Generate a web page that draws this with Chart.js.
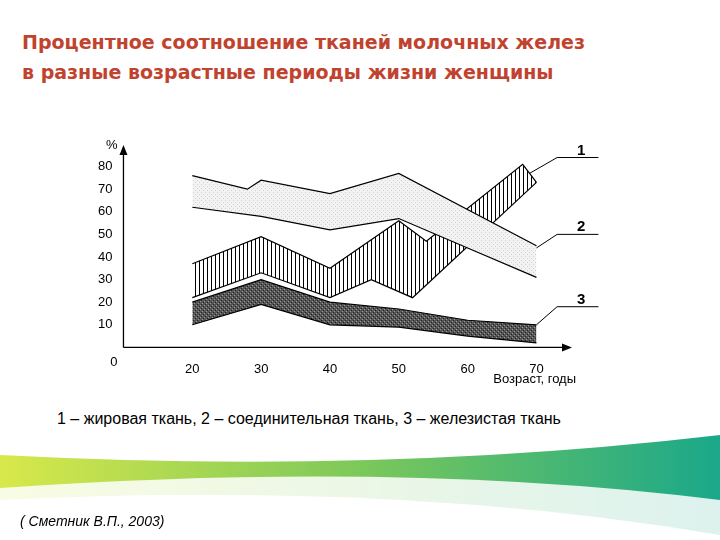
<!DOCTYPE html>
<html><head><meta charset="utf-8">
<script src="https://cdn.jsdelivr.net/npm/chart.js@4/dist/chart.umd.min.js"></script>
<style>
body{margin:0;width:720px;height:540px;overflow:hidden;background:#fff;position:relative;font-family:"Liberation Sans",Arial,sans-serif}
#title{position:absolute;left:22px;top:27px;font-family:"DejaVu Sans",sans-serif;font-weight:bold;font-size:19px;line-height:30px;color:#c0432f}
#wrap{position:absolute;left:95px;top:130px;width:510px;height:260px}
#leg{position:absolute;left:57px;top:410px;font-size:16px;color:#000}
#src{position:absolute;left:20px;top:513px;font-size:14px;font-style:italic;color:#000}
#deco{position:absolute;left:0;top:430px}
</style></head><body>
<canvas id="deco" width="720" height="110"></canvas>
<div id="title">Процентное соотношение тканей молочных желез<br>в разные возрастные периоды жизни женщины</div>
<div id="wrap"><canvas id="c"></canvas></div>
<div id="leg">1 – жировая ткань, 2 – соединительная ткань, 3 – железистая ткань</div>
<div id="src">( Сметник В.П., 2003)</div>
<script>
// data
const fatUpperX=[20,30,40,50,54,68,70], fatUpperY=[37,49,35,56,47,81,73];
const fatLowerX=[20,30,40,46,52,70], fatLowerY=[22,33,22,30,22,73];
const connUpperX=[20,28,30,40,50,70], connUpperY=[76,70,74,68,77,45];
const connLowerX=[20,30,40,50,60,70], connLowerY=[62,58,52,57,44,31];
const glandUpperX=[20,30,40,50,60,70], glandUpperY=[20,30,20,17,12,10];
const glandLowerX=[20,30,40,50,60,70], glandLowerY=[10,19,10,9,5,2];
const xTicks=[20,30,40,50,60,70], yTicks=[10,20,30,40,50,60,70,80];
const bandLabels=['1','2','3'];

// decoration
const d=document.getElementById('deco').getContext('2d');
let g=d.createLinearGradient(0,0,720,0);g.addColorStop(0,'#d8e84a');g.addColorStop(0.5,'#7cc85a');g.addColorStop(1,'#1aa88a');
d.fillStyle=g;d.beginPath();d.moveTo(0,25);d.quadraticCurveTo(380,45,720,5);d.lineTo(720,110);d.lineTo(0,110);d.closePath();d.fill();
d.fillStyle='rgba(255,255,255,0.85)';d.beginPath();d.moveTo(0,58);d.quadraticCurveTo(400,30,720,70);d.lineTo(720,110);d.lineTo(0,110);d.closePath();d.fill();
d.fillStyle='#fff';d.beginPath();d.moveTo(0,70);d.quadraticCurveTo(400,50,720,105);d.lineTo(720,110);d.lineTo(0,110);d.closePath();d.fill();

function pat(kind){const p=document.createElement('canvas');p.width=p.height=4;const x=p.getContext('2d');
 x.fillStyle='#fff';x.fillRect(0,0,4,4);
 if(kind==='v'){x.fillStyle='#000';x.fillRect(0,0,1,4);}
 else if(kind==='l'){x.fillStyle='#f3f3f3';x.fillRect(0,0,4,4);x.fillStyle='#d0d0d0';x.fillRect(0,0,1,1);x.fillRect(2,2,1,1);}
 else {x.fillStyle='#555';x.fillRect(0,0,4,4);x.fillStyle='#222';x.fillRect(0,0,1,1);x.fillRect(2,2,1,1);x.fillStyle='#999';x.fillRect(1,3,1,1);x.fillRect(3,1,1,1);}
 return x.createPattern(p,'repeat');}
const pts=(xs,ys)=>xs.map((v,i)=>({x:v,y:ys[i]}));
const ds=(xs,ys,fill,bg)=>({data:pts(xs,ys),borderColor:'#000',borderWidth:1.2,pointRadius:0,tension:0,fill:fill,backgroundColor:bg});
const ctx=document.getElementById('c');
const deco={id:'deco',afterDraw(ch){const c=ch.ctx,xs=ch.scales.x,ys=ch.scales.y;c.save();c.strokeStyle='#000';c.fillStyle='#000';c.lineWidth=1.3;
 const x0=xs.left,y0=ys.bottom;
 c.beginPath();c.moveTo(x0,y0);c.lineTo(xs.right,y0);c.moveTo(x0,y0);c.lineTo(x0,ys.top);c.stroke();
 c.beginPath();c.moveTo(xs.right+8,y0);c.lineTo(xs.right-2,y0-4);c.lineTo(xs.right-2,y0+4);c.fill();
 c.beginPath();c.moveTo(x0,ys.top-8);c.lineTo(x0-4,ys.top+2);c.lineTo(x0+4,ys.top+2);c.fill();
 c.font='13px "Liberation Sans",Arial';c.textAlign='right';c.fillText('0',x0-6,y0+19);c.fillText('%',x0-6,ys.top-4);
 c.fillText('Возраст, годы',xs.right+12,y0+36);
 c.lineWidth=1;c.font='bold 15px "Liberation Sans",Arial';c.textAlign='left';
 const lines=[[69,77,73,84,79,84],[70,44,73,50,79,50],[70,10,73,18,79,18]];
 lines.forEach((l,i)=>{c.beginPath();c.moveTo(xs.getPixelForValue(l[0]),ys.getPixelForValue(l[1]));c.lineTo(xs.getPixelForValue(l[2]),ys.getPixelForValue(l[3]));c.lineTo(xs.getPixelForValue(l[4]),ys.getPixelForValue(l[5]));c.stroke();
 c.fillText(bandLabels[i],xs.getPixelForValue(l[2])+20,ys.getPixelForValue(l[3])-3);});
 c.restore();}};
new Chart(ctx,{type:'line',data:{datasets:[
 ds(connUpperX,connUpperY,false,'transparent'),ds(connLowerX,connLowerY,'-1',pat('l')),
 ds(glandUpperX,glandUpperY,false,'transparent'),ds(glandLowerX,glandLowerY,'-1',pat('d')),
 ds(fatUpperX,fatUpperY,false,'transparent'),ds(fatLowerX,fatLowerY,'-1',pat('v'))]},
 options:{responsive:true,maintainAspectRatio:false,animation:false,layout:{padding:{top:23,right:41,bottom:7,left:0}},
 plugins:{legend:{display:false},tooltip:{enabled:false}},
 scales:{x:{type:'linear',min:10,max:74,grid:{display:false},border:{display:false},
   afterBuildTicks(a){a.ticks=xTicks.map(v=>({value:v}));},ticks:{color:'#000',font:{size:13},padding:6}},
  y:{min:0,max:86,grid:{display:false},border:{display:false},
   afterBuildTicks(a){a.ticks=yTicks.map(v=>({value:v}));},ticks:{color:'#000',font:{size:13}}}}},
 plugins:[deco]});
</script></body></html>
